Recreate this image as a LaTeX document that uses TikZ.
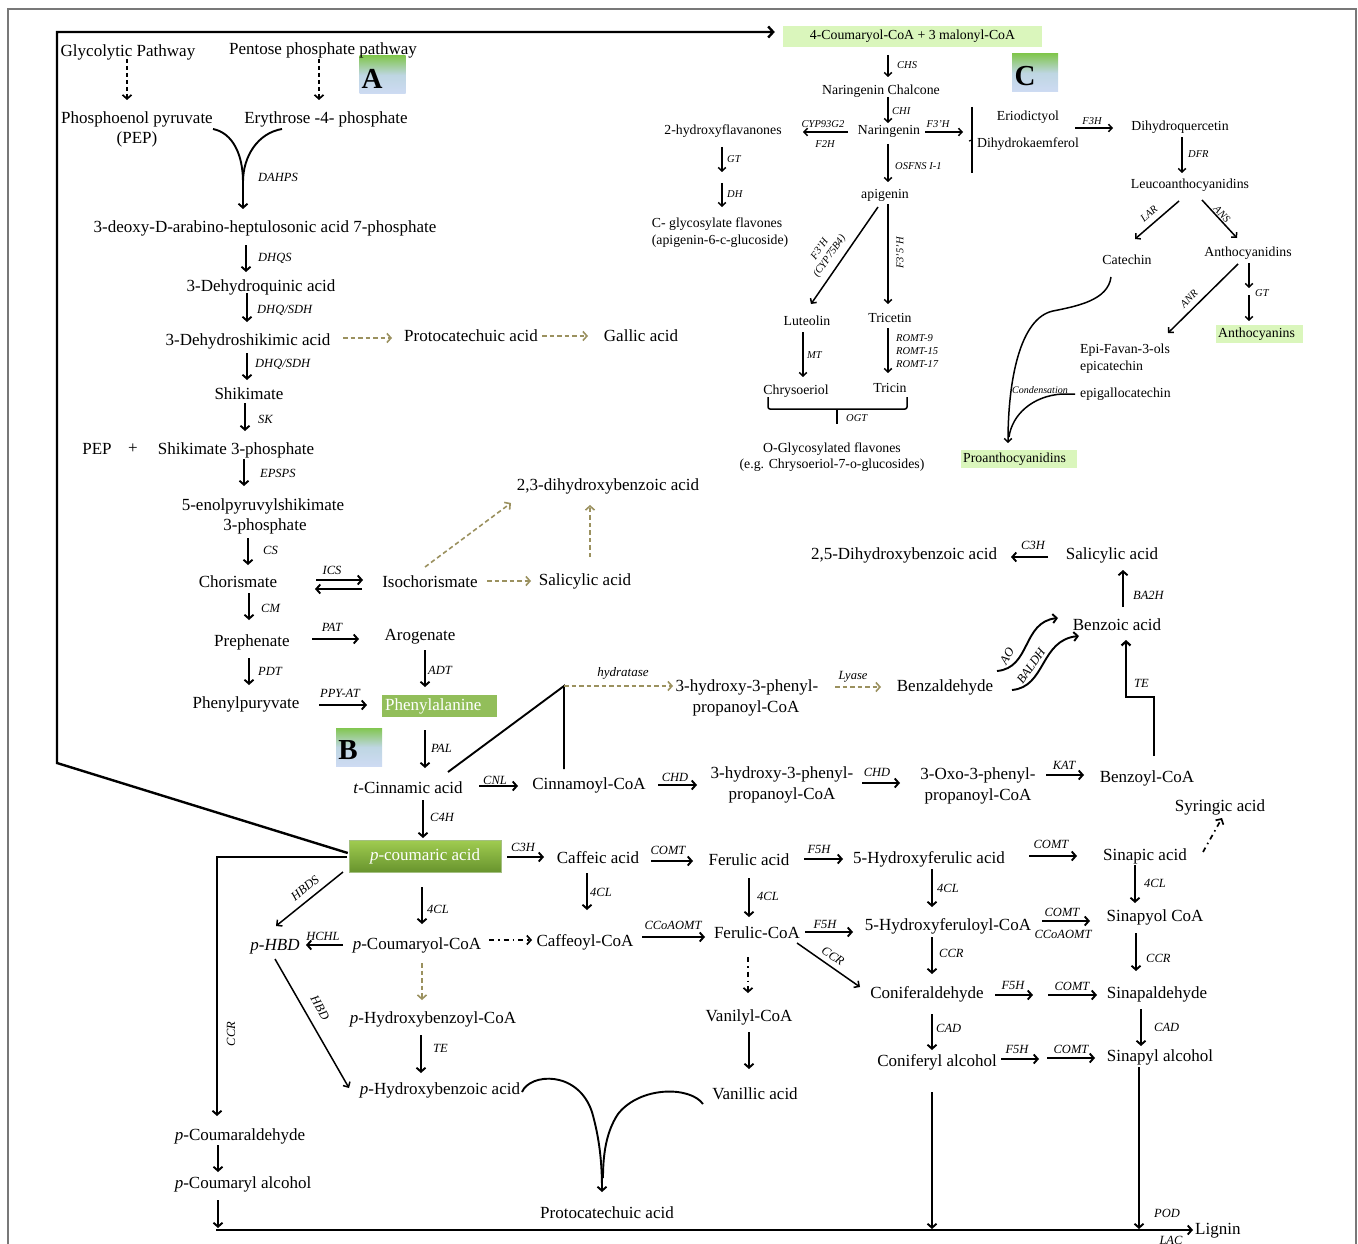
\documentclass[tikz,border=0pt]{standalone}
\usepackage{fontspec}
\setmainfont{Liberation Serif}
\usetikzlibrary{arrows.meta}
\definecolor{olv}{RGB}{155,145,95}
\definecolor{phe}{RGB}{146,190,90}
\definecolor{pcT}{RGB}{160,204,80}
\definecolor{pcB}{RGB}{104,148,46}
\definecolor{lg}{RGB}{218,246,188}
\definecolor{bxG}{RGB}{130,198,80}
\definecolor{bxM}{RGB}{190,214,226}
\definecolor{bxB}{RGB}{206,219,243}
\definecolor{frm}{RGB}{120,120,120}
\begin{document}
\begin{tikzpicture}[x=1pt,y=-1pt,
 Tb/.style={font=\fontsize{17}{19}\selectfont, inner sep=0pt, text height=11.5pt, text depth=3.5pt},
 T/.style={Tb, yshift=-2pt},
 TCb/.style={font=\fontsize{13.8}{16}\selectfont, inner sep=0pt, text height=9.4pt, text depth=2.9pt},
 TC/.style={TCb, yshift=-2pt},
 E/.style={font=\fontsize{12.5}{14}\selectfont\itshape, inner sep=0pt, yshift=-1pt},
 EC/.style={font=\fontsize{10.5}{12}\selectfont\itshape, inner sep=0pt, yshift=-1pt},
 ar/.style={line width=1.9pt, -{Straight Barb[length=4pt,width=9pt]}},
 ln/.style={line width=1.9pt},
 ard/.style={line width=1.5pt, -{Straight Barb[length=4pt,width=8pt]}},
 arc/.style={line width=1.5pt, -{Straight Barb[length=3.5pt,width=7.5pt]}},
 oar/.style={draw=olv, line width=1.6pt, dash pattern=on 4.5pt off 3pt, -{Straight Barb[length=4pt,width=9pt]}},
 dar/.style={line width=1.7pt, dash pattern=on 4pt off 3pt, -{Straight Barb[length=4pt,width=9pt]}},
 ddar/.style={line width=1.7pt, dash pattern=on 5pt off 4pt on 1.5pt off 4pt, -{Straight Barb[length=4pt,width=9pt]}},
 lbox/.style={minimum width=46pt, minimum height=38pt, inner sep=0pt, top color=bxG, bottom color=bxB, middle color=bxM},
 lett/.style={font=\fontsize{29}{30}\selectfont\bfseries, inner sep=0pt}
]
\useasboundingbox (0,0) rectangle (1358,1244);
\draw[frm, line width=1.3pt] (8,9) rectangle (1356,1262);

% ---------------- letter boxes
\node[lbox] (boxA) at (382.5,75) {};
\node[lett] (letA) at (372,79) {A};
\node[lbox] (boxB) at (359,747) {};
\node[lett] (letB) at (348,750) {B};
\node[lbox] (boxC) at (1035,73) {};
\node[lett] (letC) at (1025,76) {C};

% ---------------- panel A / B texts
\node[T] (gly) at (128,51) {Glycolytic Pathway};
\node[T] (pent) at (323,49) {Pentose phosphate pathway};
\node[T] (pep1) at (137,118) {Phosphoenol pyruvate};
\node[T] (pep2) at (137,138) {(PEP)};
\node[T] (ery) at (326,118) {Erythrose -4- phosphate};
\node[T] (dahp) at (265,227) {3-deoxy-D-arabino-heptulosonic acid 7-phosphate};
\node[T] (dhq) at (261,285) {3-Dehydroquinic acid};
\node[T] (dhs) at (248,339) {3-Dehydroshikimic acid};
\node[T] (proto1) at (471,335) {Protocatechuic acid};
\node[T] (gallic) at (641,335) {Gallic acid};
\node[T] (shik) at (249,393) {Shikimate};
\node[T] (pep3) at (97,448) {PEP};
\node[T] (plus) at (133,447) {+};
\node[T] (s3p) at (236,448) {Shikimate 3-phosphate};
\node[T] (enol1) at (263,504) {5-enolpyruvylshikimate};
\node[T] (enol2) at (265,524) {3-phosphate};
\node[T] (chor) at (238,581) {Chorismate};
\node[T] (iso) at (430,581) {Isochorismate};
\node[T] (sal1) at (585,579) {Salicylic acid};
\node[T] (dhb23) at (608,484) {2,3-dihydroxybenzoic acid};
\node[T] (preph) at (252,640) {Prephenate};
\node[T] (arog) at (420,634) {Arogenate};
\node[T] (phpy) at (246,702) {Phenylpuryvate};
\node[Tb, fill=phe, text=white, anchor=west, text width=109pt, inner xsep=3pt, minimum height=22pt, align=left] (phe) at (382,706) {Phenylalanine};
\node[T] (tcin) at (408,787) {\textit{t}-Cinnamic acid};
\node[T] (cinco) at (589,783) {Cinnamoyl-CoA};
\node[T] (hppa) at (747,685) {3-hydroxy-3-phenyl-};
\node[T] (hppb) at (746,706) {propanoyl-CoA};
\node[T] (benzal) at (945,685) {Benzaldehyde};
\node[T] (hpqa) at (782,772) {3-hydroxy-3-phenyl-};
\node[T] (hpqb) at (782,793) {propanoyl-CoA};
\node[T] (oxoa) at (978,773) {3-Oxo-3-phenyl-};
\node[T] (oxob) at (978,794) {propanoyl-CoA};
\node[T] (bzcoa) at (1147,776) {Benzoyl-CoA};
\node[T] (bzac) at (1117,624) {Benzoic acid};
\node[T] (sal2) at (1112,553) {Salicylic acid};
\node[T] (dhb25) at (904,553) {2,5-Dihydroxybenzoic acid};
\node[T] (syr) at (1220,805) {Syringic acid};
\node[Tb, text=white, minimum width=152pt, minimum height=32pt, top color=pcT, bottom color=pcB, draw=pcB!60!white, line width=0.5pt] (pcou) at (425,856) {\textit{p}-coumaric acid};
\node[T] (caff) at (598,857) {Caffeic acid};
\node[T] (feru) at (749,859) {Ferulic acid};
\node[T] (hfer) at (929,857) {5-Hydroxyferulic acid};
\node[T] (sinap) at (1145,854) {Sinapic acid};
\node[T] (phbd) at (275,944) {\textit{p-HBD}};
\node[T] (pcoa) at (417,943) {\textit{p}-Coumaryol-CoA};
\node[T] (caffco) at (585,940) {Caffeoyl-CoA};
\node[T] (ferco) at (757,932) {Ferulic-CoA};
\node[T] (hferco) at (948,924) {5-Hydroxyferuloyl-CoA};
\node[T] (sinco) at (1155,915) {Sinapyol CoA};
\node[T] (phbco) at (433,1017) {\textit{p}-Hydroxybenzoyl-CoA};
\node[T] (vanco) at (749,1015) {Vanilyl-CoA};
\node[T] (conald) at (927,992) {Coniferaldehyde};
\node[T] (sinald) at (1157,992) {Sinapaldehyde};
\node[T] (phba) at (440,1088) {\textit{p}-Hydroxybenzoic acid};
\node[T] (vanac) at (755,1093) {Vanillic acid};
\node[T] (conalc) at (937,1060) {Coniferyl alcohol};
\node[T] (sinalc) at (1160,1055) {Sinapyl alcohol};
\node[T] (pcald) at (240,1134) {\textit{p}-Coumaraldehyde};
\node[T] (pcalc) at (243,1182) {\textit{p}-Coumaryl alcohol};
\node[T] (proto2) at (607,1212) {Protocatechuic acid};
\node[T, anchor=west] (lignin) at (1195,1228) {Lignin};

% ---------------- panel C texts
\node[TCb, fill=lg, minimum width=259pt, minimum height=21pt] (cou) at (912.5,36.5) {4-Coumaryol-CoA + 3 malonyl-CoA};
\node[TC] (narch) at (881,89) {Naringenin Chalcone};
\node[TC] (nar) at (889,129) {Naringenin};
\node[TC] (hfl) at (723,129) {2-hydroxyflavanones};
\node[TC] (cgla) at (717,222) {C- glycosylate flavones};
\node[TC] (cglb) at (720,239) {(apigenin-6-c-glucoside)};
\node[TC] (api) at (885,193) {apigenin};
\node[TC] (lut) at (807,320) {Luteolin};
\node[TC] (trice) at (890,317) {Tricetin};
\node[TC] (chry) at (796,389) {Chrysoeriol};
\node[TC] (tric) at (890,387) {Tricin};
\node[TC] (ogla) at (832,447) {O-Glycosylated flavones};
\node[TC] (oglb) at (832,463) {(e.g. Chrysoeriol-7-o-glucosides)};
\node[TC] (erio) at (1028,115) {Eriodictyol};
\node[TC] (dhk) at (1028,142) {Dihydrokaemferol};
\node[TC] (dhqc) at (1180,125) {Dihydroquercetin};
\node[TC] (leuco) at (1190,183) {Leucoanthocyanidins};
\node[TC] (cat) at (1127,259) {Catechin};
\node[TC] (anth) at (1248,251) {Anthocyanidins};
\node[TCb, fill=lg, anchor=west, text width=83pt, inner xsep=2pt, minimum height=18pt, align=left] (anthy) at (1216,334) {Anthocyanins};
\node[TC, anchor=west] (epia) at (1080,348) {Epi-Favan-3-ols};
\node[TC, anchor=west] (epib) at (1080,365) {epicatechin};
\node[TC, anchor=west] (epig) at (1080,392) {epigallocatechin};
\node[TCb, fill=lg, anchor=west, text width=112pt, inner xsep=2pt, minimum height=18pt, align=left] (proan) at (961,459) {Proanthocyanidins};

% ---------------- enzyme labels A/B
\node[E] (eDAHPS) at (278,176) {DAHPS};
\node[E, anchor=west] (eDHQS) at (258,257) {DHQS};
\node[E, anchor=west] (eDS1) at (257,309) {DHQ/SDH};
\node[E, anchor=west] (eDS2) at (255,363) {DHQ/SDH};
\node[E, anchor=west] (eSK) at (258,418) {SK};
\node[E, anchor=west] (eEPSPS) at (260,472) {EPSPS};
\node[E, anchor=west] (eCS) at (263,549) {CS};
\node[E] (eICS) at (332,569) {ICS};
\node[E, anchor=west] (eCM) at (261,607) {CM};
\node[E] (ePAT) at (332,626) {PAT};
\node[E, anchor=west] (eADT) at (428,669) {ADT};
\node[E, anchor=west] (ePDT) at (258,670) {PDT};
\node[E] (ePPY) at (340,692) {PPY-AT};
\node[E, anchor=west] (ePAL) at (431,747) {PAL};
\node[E, anchor=west] (eC4H) at (430,816) {C4H};
\node[E] (eCNL) at (495,779) {CNL};
\node[E] (eCHD1) at (675,776) {CHD};
\node[E] (eCHD2) at (877,771) {CHD};
\node[E] (eKAT) at (1064,764) {KAT};
\node[E, font=\fontsize{13}{14}\selectfont\itshape] (ehyd) at (623,672) {hydratase};
\node[E] (elyase) at (853,676) {Lyase};
\node[E, anchor=west] (eTE1) at (1134,682) {TE};
\node[E, anchor=west] (eBA2H) at (1133,594) {BA2H};
\node[E] (eC3H1) at (1033,544) {C3H};
\node[E, rotate=60] (eAO) at (1007,655) {AO};
\node[E, rotate=55] (eBALDH) at (1031,665) {BALDH};
\node[E] (eC3H2) at (523,846) {C3H};
\node[E] (eCOMT1) at (668,849) {COMT};
\node[E] (eF5H1) at (819,848) {F5H};
\node[E] (eCOMT2) at (1051,843) {COMT};
\node[E, anchor=west] (e4CL1) at (590,891) {4CL};
\node[E, anchor=west] (e4CL2) at (757,895) {4CL};
\node[E, anchor=west] (e4CL3) at (937,887) {4CL};
\node[E, anchor=west] (e4CL4) at (1144,882) {4CL};
\node[E, anchor=west] (e4CL5) at (427,908) {4CL};
\node[E, rotate=39] (eHBDS) at (305,887) {HBDS};
\node[E] (eHCHL) at (323,935) {HCHL};
\node[E] (eCCo1) at (673,924) {CCoAOMT};
\node[E] (eF5H2) at (825,923) {F5H};
\node[E] (eCOMT3) at (1062,911) {COMT};
\node[E] (eCCo2) at (1063,933) {CCoAOMT};
\node[E, rotate=-35] (eCCR1) at (833,955) {CCR};
\node[E, anchor=west] (eCCR2) at (939,952) {CCR};
\node[E, anchor=west] (eCCR3) at (1146,957) {CCR};
\node[E] (eF5H3) at (1013,984) {F5H};
\node[E] (eCOMT4) at (1072,985) {COMT};
\node[E, anchor=west] (eCAD1) at (936,1027) {CAD};
\node[E, anchor=west] (eCAD2) at (1154,1026) {CAD};
\node[E] (eF5H4) at (1017,1048) {F5H};
\node[E] (eCOMT5) at (1071,1048) {COMT};
\node[E, anchor=west] (eTE2) at (433,1047) {TE};
\node[E, rotate=-60] (eHBD) at (320,1007) {HBD};
\node[E, rotate=90] (eCCR4) at (231,1033) {CCR};
\node[E] (ePOD) at (1167,1212) {POD};
\node[E] (eLAC) at (1171,1239) {LAC};

% ---------------- enzyme labels C
\node[EC, anchor=west] (eCHS) at (897,64) {CHS};
\node[EC, anchor=west] (eCHI) at (892,110) {CHI};
\node[EC] (eCYP) at (823,123) {CYP93G2};
\node[EC] (eF2H) at (825,143) {F2H};
\node[EC] (eF3H1) at (938,123) {F3'H};
\node[EC, anchor=west] (eOSF) at (895,165) {OSFNS I-1};
\node[EC, anchor=west] (eGT1) at (727,158) {GT};
\node[EC, anchor=west] (eDH) at (727,193) {DH};
\node[EC, rotate=55, align=center] (eF3H2) at (825,252) {F3'H\\(CYP75B4)};
\node[EC, rotate=90] (eF35H) at (900,252) {F3'5'H};
\node[EC, anchor=west] (eMT) at (807,354) {MT};
\node[EC, anchor=west] (eR9) at (896,337) {ROMT-9};
\node[EC, anchor=west] (eR15) at (896,350) {ROMT-15};
\node[EC, anchor=west] (eR17) at (896,363) {ROMT-17};
\node[EC, anchor=west] (eOGT) at (846,417) {OGT};
\node[EC] (eF3H) at (1092,120) {F3H};
\node[EC, anchor=west] (eDFR) at (1188,153) {DFR};
\node[EC, rotate=41] (eLAR) at (1149,213) {LAR};
\node[EC, rotate=-47] (eANS) at (1222,213) {ANS};
\node[EC, rotate=45] (eANR) at (1189,298) {ANR};
\node[EC, anchor=west] (eGT2) at (1255,292) {GT};
\node[EC, font=\fontsize{10}{11}\selectfont\itshape] (econd) at (1040,389) {Condensation};

% ---------------- frame path (to panel C)
\draw[line width=2.4pt, -{Straight Barb[length=5pt,width=11pt]}] ([shift={(-1,-3)}]pcou.west) -- (57,763) -- (57,32) -- ([xshift=-8pt]cou.west |- 57,32);

% ---------------- connectors A / B
\draw[dar] (127,59) -- (127,100);
\draw[dar] (319,59) -- (319,100);
\draw[ln] (213,129) .. controls (233,133) and (243,155) .. (243,182);
\draw[ar] (282,129) .. controls (258,133) and (243,156) .. (243,182) -- (243,209);
\draw[ar] (246,245) -- (246,272);
\draw[ar] (247,293) -- (247,322);
\draw[ar] (247,353) -- (247,380);
\draw[oar] (343,338) -- (392,338);
\draw[oar] (542,336) -- (588,336);
\draw[ar] (245,403) -- (245,431);
\draw[ar] (244,459) -- (244,486);
\draw[ar] (248,538) -- (248,565);
\draw[ar] (316,580) -- (363,580);
\draw[ar] (362,589) -- (315,589);
\draw[oar] (425,567) -- (511,503);
\draw[oar] (487,581) -- (531,581);
\draw[oar] (590,557) -- (590,505);
\draw[ar] (249,593) -- (249,620);
\draw[ar] (312,639) -- (359,639);
\draw[ar] (425,650) -- (425,687);
\draw[ar] (249,658) -- (249,685);
\draw[ar] (319,705) -- (367,705);
\draw[ar] (425,730) -- (425,768);
\draw[ln] (448,772) -- (564,686) -- (564,769);
\draw[oar] (564,686) -- (673,686);
\draw[oar] (835,687) -- (881,687);
\draw[ar] (479,786) -- (518,786);
\draw[ar] (658,785) -- (697,785);
\draw[ar] (862,783) -- (900,783);
\draw[ar] (1046,775) -- (1084,775);
\draw[ln, line width=2.2pt, -{Straight Barb[length=4pt,width=9pt]}] (1154,756) -- (1154,697) -- (1126,697) -- (1126,640);
\draw[ar] (1123,607) -- (1123,570);
\draw[ar] (1048,557) -- (1011,557);
\draw[ar] (997,671) .. controls (1031,668) and (1022,622) .. (1058,618);
\draw[ar] (1012,690) .. controls (1046,687) and (1040,640) .. (1079,636);
\draw[ar] (423,800) -- (423,838);
\draw[ar] (507,857) -- (544,857);
\draw[ar] (651,861) -- (693,861);
\draw[ar] (804,859) -- (843,859);
\draw[ar] (1029,856) -- (1077,856);
\draw[ddar] (1203,852) -- (1222,818);
\draw[ar] (587,873) -- (587,910);
\draw[ar] (749,878) -- (749,917);
\draw[ar] (932,869) -- (932,907);
\draw[ar] (1135,865) -- (1135,903);
\draw[ar] (422,887) -- (422,924);
\draw[ard] (343,872) -- (276,926);
\draw[ar] (343,945) -- (306,945);
\draw[ddar] (489,940) -- (532,940);
\draw[ar] (642,937) -- (705,937);
\draw[ar] (805,932) -- (853,932);
\draw[ar] (1042,921) -- (1090,921);
\draw[ard] (797,943) -- (860,987);
\draw[ddar] (748,957) -- (748,993);
\draw[ar] (749,1032) -- (749,1069);
\draw[ar] (932,937) -- (932,974);
\draw[ar] (1136,933) -- (1136,971);
\draw[ar] (995,995) -- (1033,995);
\draw[ar] (1048,995) -- (1097,995);
\draw[ar] (932,1014) -- (932,1050);
\draw[ar] (1141,1009) -- (1141,1046);
\draw[ar] (1001,1059) -- (1039,1059);
\draw[ar] (1047,1058) -- (1095,1058);
\draw[ar] (932,1092) -- (932,1229);
\draw[ar] (1139,1067) -- (1139,1229);
\draw[oar] (422,963) -- (422,1000);
\draw[ar] (421,1035) -- (421,1073);
\draw[ard] (275,959) -- (349,1088);
\draw[ar] (347,857) -- (217,857) -- (217,1116);
\draw[ar] (218,1145) -- (218,1172);
\draw[ar] (218,1200) -- (218,1228);
\draw[ar] (216,1230) -- (1193,1230);
\draw[ar] (522,1092) .. controls (530,1073) and (578,1070) .. (592,1112) .. controls (600,1140) and (602,1165) .. (602,1192);
\draw[ln] (703,1104) .. controls (690,1086) and (640,1086) .. (618,1114) .. controls (606,1132) and (603,1155) .. (603,1178);

% ---------------- connectors C
\draw[arc] (888,55) -- (888,77);
\draw[arc] (888,97) -- (888,123);
\draw[arc] (848,132) -- (803,132);
\draw[arc] (925,132) -- (963,132);
\draw[line width=1.5pt] (972,107) -- (972,173);
\draw[line width=1.2pt] (972,140) -- (969,141);
\draw[arc] (1075,128) -- (1113,128);
\draw[arc] (1182,137) -- (1182,173);
\draw[arc] (1179,201) -- (1135,239);
\draw[arc] (1202,200) -- (1237,238);
\draw[arc] (1249,263) -- (1249,288);
\draw[arc] (1249,295) -- (1249,321);
\draw[arc] (1238,264) -- (1168,333);
\draw[arc] (722,147) -- (722,172);
\draw[arc] (722,183) -- (722,207);
\draw[arc] (888,144) -- (888,182);
\draw[arc] (878,207) -- (811,304);
\draw[arc] (888,204) -- (888,304);
\draw[arc] (803,332) -- (803,377);
\draw[arc] (888,328) -- (888,373);
\draw[line width=1.5pt, rounded corners=2pt] (768,397) -- (768,409) -- (907,409) -- (907,397);
\draw[line width=1.5pt] (837,409) -- (837,424);
\draw[arc] (1111,277) .. controls (1108,300) and (1078,306) .. (1053,311) .. controls (1020,318) and (1008,380) .. (1008,443);
\draw[line width=1.5pt] (1075,394) -- (1062,394) .. controls (1032,396) and (1012,415) .. (1009,437);
\end{tikzpicture}
\end{document}
